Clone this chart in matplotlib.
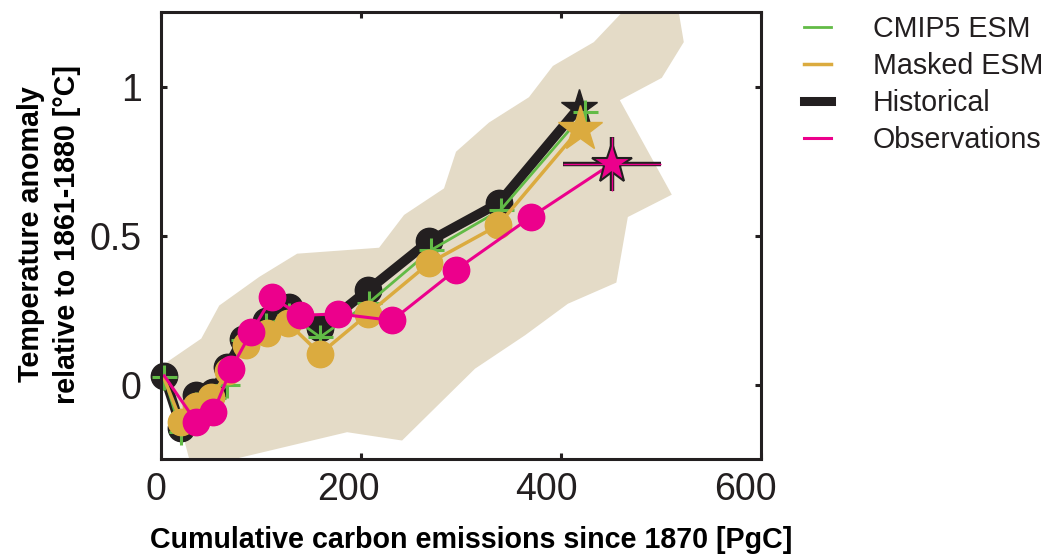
import matplotlib
matplotlib.use("Agg")
import matplotlib.pyplot as plt
from matplotlib.lines import Line2D
from matplotlib.patches import Polygon
import matplotlib.transforms as mtransforms

plt.rcParams['font.family'] = ['Liberation Sans', 'DejaVu Sans']

# ---------------- data ----------------
hist_x = [3, 20, 35, 52, 66, 82, 105, 128, 159, 207, 268, 338, 418]
hist_y = [0.03, -0.145, -0.035, -0.025, 0.06, 0.155, 0.215, 0.26, 0.19, 0.318, 0.482, 0.61, 0.93]

cmip_x = [3, 20, 35, 52, 66, 82, 105, 128, 159, 208, 270, 340, 424]
cmip_y = [0.025, -0.16, -0.065, -0.045, 0.0, 0.15, 0.2, 0.235, 0.16, 0.276, 0.452, 0.588, 0.915]

mask_x = [3, 20, 35, 50, 67, 85, 106, 127, 159, 207, 268, 337, 419]
mask_y = [0.02, -0.125, -0.07, -0.04, 0.045, 0.135, 0.175, 0.207, 0.104, 0.238, 0.408, 0.535, 0.86]

obs_x = [3, 35, 52, 70, 90, 111, 139, 177, 231, 295, 370, 451]
obs_y = [0.03, -0.125, -0.092, 0.054, 0.177, 0.294, 0.233, 0.238, 0.216, 0.386, 0.563, 0.742]
obs_xerr = 49
obs_yerr = 0.09

range_x = [3, 40, 58, 98, 136, 218, 243, 283, 295, 328, 368, 392, 433, 467, 517,
           523, 501, 459, 511, 467, 455.5, 407, 364, 314, 241, 186, 72, 28]
range_y = [0.07, 0.155, 0.266, 0.362, 0.44, 0.46, 0.57, 0.659, 0.782, 0.88, 0.965, 1.07, 1.15, 1.27, 1.27,
           1.15, 1.03, 0.955, 0.638, 0.563, 0.343, 0.272, 0.166, 0.054, -0.187, -0.159, -0.25, -0.25]

xticks = [0, 200, 400, 600]
yticks = [0, 0.5, 1]
ytick_labels = ['0', '0.5', '1']
legend_labels = ['CMIP5 ESM', 'Masked ESM', 'Historical', 'Observations']

# ---------------- style ----------------
DARK = '#231f20'
GREEN = '#62bb46'
GOLD = '#dbab3f'
PINK = '#ec008c'
BEIGE = '#e4dbc7'

W, H = 1047, 557
fig = plt.figure(figsize=(W / 100, H / 100), dpi=100)
ax = fig.add_axes([161.3 / W, 1 - 459.3 / H, (760.7 - 161.3) / W, (459.3 - 12.3) / H])

ax.add_patch(Polygon(list(zip(range_x, range_y)), closed=True, facecolor=BEIGE,
                     edgecolor='none', zorder=1))

# Historical
ax.plot(hist_x, hist_y, color=DARK, lw=7, solid_joinstyle='miter', zorder=2)
ax.plot(hist_x[:-1], hist_y[:-1], 'o', color=DARK, ms=19, zorder=2, clip_on=False)
ax.plot(hist_x[-1:], hist_y[-1:], '*', color=DARK, ms=28, zorder=2)

# CMIP5 ESM
ax.plot(cmip_x, cmip_y, color=GREEN, lw=2, marker='+', ms=18, mew=2.2, zorder=3, clip_on=False)

# Masked ESM
ax.plot(mask_x, mask_y, color=GOLD, lw=2.5, zorder=4)
ax.plot(mask_x[1:-1], mask_y[1:-1], 'o', color=GOLD, ms=19, zorder=4)
ax.plot(mask_x[-1:], mask_y[-1:], '*', color=GOLD, ms=34, zorder=4)

# Observations
ax.plot(obs_x, obs_y, color=PINK, lw=2.2, zorder=5, clip_on=False)
ax.plot(obs_x[1:-1], obs_y[1:-1], 'o', color=PINK, ms=19, zorder=5)
ax.errorbar(obs_x[-1:], obs_y[-1:], xerr=obs_xerr, yerr=obs_yerr, fmt='none',
            ecolor=DARK, elinewidth=3.2, capsize=0, zorder=6)
ax.errorbar(obs_x[-1:], obs_y[-1:], xerr=obs_xerr, yerr=obs_yerr, fmt='none',
            ecolor=PINK, elinewidth=1.0, capsize=0, zorder=7)
ax.plot(obs_x[-1:], obs_y[-1:], '*', color=PINK, mec=DARK, mew=1.5, ms=30, zorder=6.5)

ax.set_xlim(0, 600)
ax.set_ylim(-0.25, 1.25)
ax.set_xticks(xticks)
ax.set_xticklabels([str(t) for t in xticks])
ax.set_yticks(yticks)
ax.set_yticklabels(ytick_labels)

for s in ax.spines.values():
    s.set_linewidth(2.2)
    s.set_color(DARK)
    s.set_zorder(10)

ax.tick_params(direction='in', length=4.5, width=2.2, color=DARK,
               top=True, right=True, labelsize=27, labelcolor=DARK)
ax.tick_params(axis='x', pad=9)
ax.tick_params(axis='y', pad=14)

# the original figure's x tick labels sit slightly left of their ticks
label_shift_px = [-5, -13, -14, -15]
for lab, dx in zip(ax.get_xticklabels(), label_shift_px):
    off = mtransforms.ScaledTranslation(dx / 100, 0, fig.dpi_scale_trans)
    lab.set_transform(lab.get_transform() + off)

fig.text(471 / W, 1 - 540 / H, 'Cumulative carbon emissions since 1870 [PgC]',
         ha='center', va='center', fontsize=20.6, fontweight='bold', color='black')
fig.text(49 / W, 1 - 234 / H, 'Temperature anomaly\nrelative to 1861-1880 [°C]',
         ha='center', va='center', rotation=90, fontsize=20.6, fontweight='bold',
         color='black', linespacing=1.35, multialignment='center')

handles = [Line2D([], [], color=GREEN, lw=2),
           Line2D([], [], color=GOLD, lw=2.5),
           Line2D([], [], color=DARK, lw=6.5),
           Line2D([], [], color=PINK, lw=2.2)]
fig.legend(handles, legend_labels, loc='upper left', bbox_to_anchor=(804 / W, 1 - 15 / H),
           frameon=False, fontsize=20.6, handlelength=0.95, handletextpad=1.45,
           labelspacing=0.31, borderpad=0, borderaxespad=0, labelcolor=DARK)

fig.savefig('out.png', dpi=100)
